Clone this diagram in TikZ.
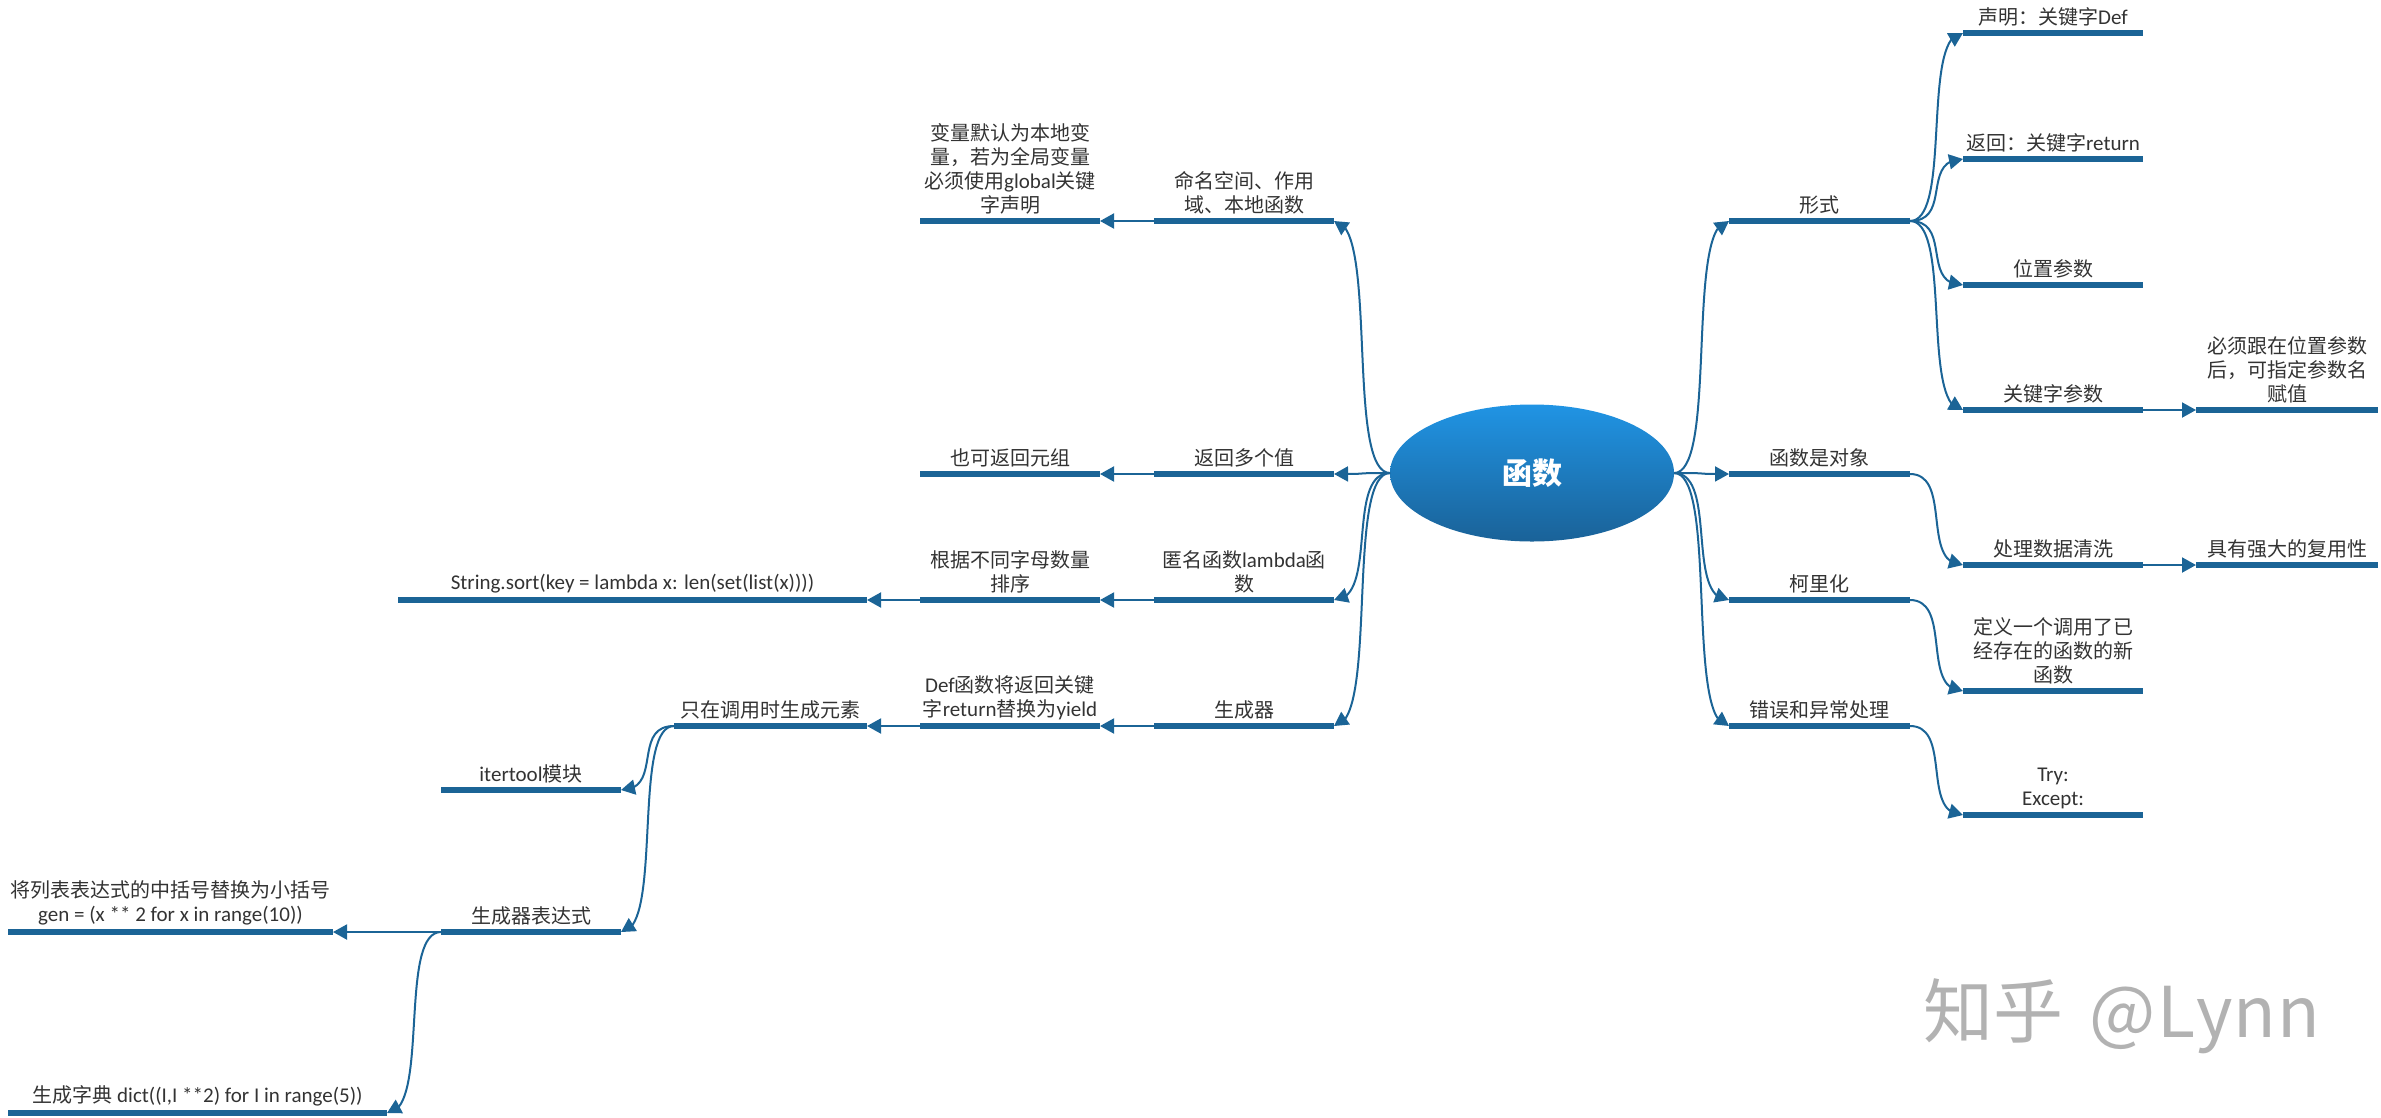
\documentclass[tikz,border=0pt]{standalone}
\usepackage{fontspec}
\usetikzlibrary{arrows.meta,bending,calc,shapes.geometric}
\setmainfont[Scale=1.05]{Carlito}
\newfontfamily\cjk{Noto Sans CJK SC}
\newcommand\zh[1]{{\cjk #1}}
\definecolor{linec}{HTML}{1B6496}
\definecolor{txtc}{HTML}{333333}
\tikzset{
  barstyle/.style={fill=linec,draw=none,minimum height=6.5pt,inner sep=0pt,outer sep=0pt},
  lab/.style={anchor=south,align=center,text=txtc,inner sep=3pt,font=\fontsize{20}{24}\selectfont},
  conn/.style={draw=linec,line width=2pt,-{Triangle[length=14pt,width=15pt]}},
  hub/.style={ellipse,minimum width=284pt,minimum height=137pt,inner sep=0pt,outer sep=0pt,top color=hubtop,bottom color=hubbot,draw=none,text=white,font=\fontsize{30}{36}\selectfont\bfseries}
}
\definecolor{hubtop}{HTML}{2094E4}
\definecolor{hubbot}{HTML}{1A6298}
\newcommand\barn[5]{%
  \node[barstyle,minimum width={(#3-#2)*1pt}] (#1) at ({(#2+#3)/2},#4) {};
  \node[lab] (#1t) at (#1.north) {#5};}
\newcommand\conn[2]{\draw[conn] (#1) .. controls ($(#1)!.8!(#2|-#1)$) and ($(#1|-#2)!.2!(#2)$) .. (#2);}
\begin{document}
\begin{tikzpicture}[x=1pt,y=-1pt]
\useasboundingbox (0,0) rectangle (2381,1117);
\node[hub] (c) at (1532,473) {\zh{函数}};
\coordinate (hr) at (c.east);
\coordinate (hl) at (c.west);
% right
\barn{xs}{1729}{1910}{221}{\zh{形式}}
\barn{dx}{1729}{1910}{474}{\zh{函数是对象}}
\barn{klh}{1729}{1910}{600}{\zh{柯里化}}
\barn{cw}{1729}{1910}{726}{\zh{错误和异常处理}}
\barn{sm}{1963}{2143}{33}{\zh{声明：关键字}Def}
\barn{fh}{1963}{2143}{159}{\zh{返回：关键字}return}
\barn{wz}{1963}{2143}{285}{\zh{位置参数}}
\barn{gj}{1963}{2143}{410}{\zh{关键字参数}}
\barn{bx}{2196}{2378}{410}{\zh{必须跟在位置参数}\\\zh{后，可指定参数名}\\\zh{赋值}}
\barn{cl}{1963}{2143}{565}{\zh{处理数据清洗}}
\barn{fy}{2196}{2378}{565}{\zh{具有强大的复用性}}
\barn{dy}{1963}{2143}{691}{\zh{定义一个调用了已}\\\zh{经存在的函数的新}\\\zh{函数}}
\barn{try}{1963}{2143}{815}{Try:\\Except:}
% left
\barn{mm}{1154}{1334}{221}{\zh{命名空间、作用}\\\zh{域、本地函数}}
\barn{dg}{1154}{1334}{474}{\zh{返回多个值}}
\barn{nm}{1154}{1334}{600}{\zh{匿名函数}lambda\zh{函}\\\zh{数}}
\barn{sc}{1154}{1334}{726}{\zh{生成器}}
\barn{bl}{920}{1100}{221}{\zh{变量默认为本地变}\\\zh{量，若为全局变量}\\\zh{必须使用}global\zh{关键}\\\zh{字声明}}
\barn{yz}{920}{1100}{474}{\zh{也可返回元组}}
\barn{gen}{920}{1100}{600}{\zh{根据不同字母数量}\\\zh{排序}}
\barn{st}{398}{867}{600}{String.sort(key = lambda x: len(set(list(x))))}
\barn{def}{920}{1100}{726}{Def\zh{函数将返回关键}\\\zh{字}return\zh{替换为}yield}
\barn{zz}{674}{867}{726}{\zh{只在调用时生成元素}}
\barn{it}{441}{621}{790}{itertool\zh{模块}}
\barn{sb}{441}{621}{932}{\zh{生成器表达式}}
\barn{lb}{8}{333}{932}{\zh{将列表表达式的中括号替换为小括号}\\gen = (x ** 2 for x in range(10))}
\barn{zd}{8}{387}{1113}{\zh{生成字典} dict((I,I **2) for I in range(5))}
% connectors
\foreach \t in {xs,dx,klh,cw}{\conn{hr}{\t.west}}
\foreach \t in {mm,dg,nm,sc}{\conn{hl}{\t.east}}
\foreach \t in {sm,fh,wz,gj}{\conn{xs.east}{\t.west}}
\conn{gj.east}{bx.west}
\conn{dx.east}{cl.west}
\conn{cl.east}{fy.west}
\conn{klh.east}{dy.west}
\conn{cw.east}{try.west}
\conn{mm.west}{bl.east}
\conn{dg.west}{yz.east}
\conn{nm.west}{gen.east}
\conn{gen.west}{st.east}
\conn{sc.west}{def.east}
\conn{def.west}{zz.east}
\conn{zz.west}{it.east}
\conn{zz.west}{sb.east}
\conn{sb.west}{lb.east}
\conn{sb.west}{zd.east}
% watermark
\node[text=black!30,font=\fontsize{70}{80}\selectfont,inner sep=0pt] (wm) at (2122,1016) {\zh{知乎\kern26pt @\kern1pt L\kern1pt y\kern1pt n\kern1pt n}};
\end{tikzpicture}
\end{document}
